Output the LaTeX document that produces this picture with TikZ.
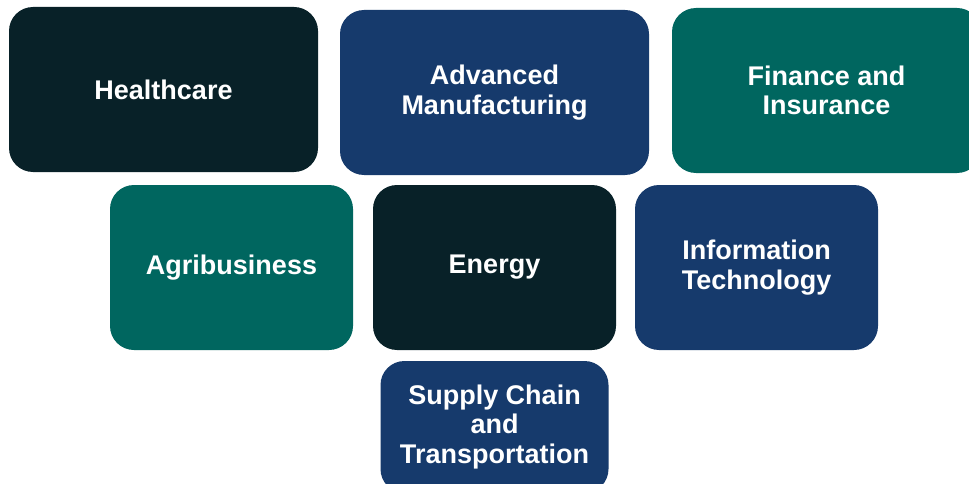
\documentclass[tikz,border=0pt]{standalone}
\usepackage{fontspec}
\setmainfont{Liberation Sans}
\usetikzlibrary{positioning}
\definecolor{darkteal}{RGB}{8,33,40}
\definecolor{navy}{RGB}{22,58,108}
\definecolor{teal}{RGB}{0,102,95}
\tikzset{
  sector/.style={rounded corners=24pt, inner sep=0pt, outer sep=0pt,
    text=white, font=\bfseries\fontsize{27}{29.5}\selectfont, align=center},
  wide/.style={sector, minimum width=309pt, minimum height=165pt},
  mid/.style={sector, minimum width=243pt, minimum height=165pt},
}

\begin{document}
\begin{tikzpicture}[x=1pt, y=1pt]
    \clip (0,0) rectangle (969,-484);
    \fill[white] (0,0) rectangle (969,-484);

    % top row
    \node[wide, fill=darkteal, anchor=north west] (health) at (9,-7) {Healthcare};
    \node[wide, fill=navy, right=22pt of health, yshift=-3pt] (manuf) {Advanced\\Manufacturing};
    \node[wide, fill=teal, right=23pt of manuf, yshift=2pt] (finance) {Finance and\\Insurance};

    % middle row
    \node[mid, fill=teal, anchor=north west] (agri) at (110,-185) {Agribusiness};
    \node[mid, fill=darkteal, right=20pt of agri] (energy) {Energy};
    \node[mid, fill=navy, right=19pt of energy] (infotech) {Information\\Technology};

    % bottom row
    \node[sector, fill=navy, minimum width=228pt, minimum height=132pt,
      below=11pt of energy] (supply) {Supply Chain\\and\\Transportation};

\end{tikzpicture}
\end{document}
